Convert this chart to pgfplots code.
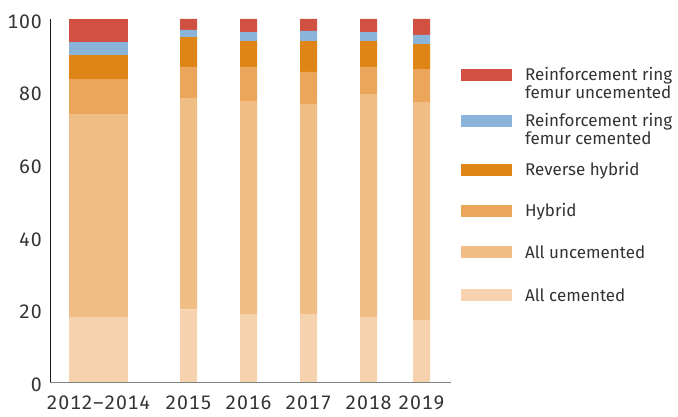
\documentclass[border=0pt]{standalone}
\usepackage{pgfplots}
\usepackage{pgfplotstable}
\pgfplotsset{compat=1.18}
\usepackage{fontspec}
\setmainfont{Fira Sans}[Numbers=Monospaced]
\newfontfamily\tickfont{Fira Sans}[Numbers=Monospaced, LetterSpace=4]
\definecolor{cRRU}{HTML}{D05042}
\definecolor{cRRC}{HTML}{8AB4D9}
\definecolor{cREV}{HTML}{DE8516}
\definecolor{cHYB}{HTML}{EBA65C}
\definecolor{cUNC}{HTML}{F0BE85}
\definecolor{cCEM}{HTML}{F6D3AE}
\definecolor{txt}{HTML}{333333}

% x positions in pt from the y axis
\pgfplotstableread{
x   cem   unc   hyb  rev  rrc  rru
48  17.9  55.9  9.7  6.6  3.6  6.3
}\widebar
\pgfplotstableread{
x   cem   unc   hyb  rev  rrc  rru
138 20.0  58.2  8.6  8.2  2.0  3.0
198 18.7  58.7  9.4  7.1  2.5  3.6
258 18.7  57.9  8.8  8.5  2.8  3.3
318 17.9  61.4  7.5  7.1  2.5  3.6
371 17.1  60.0  9.1  6.9  2.5  4.4
}\narrowbars

\pgfplotsset{
  base/.style={
    at={(50.5pt,35pt)}, anchor=south west,
    scale only axis, width=400.5pt, height=363pt,
    xmin=0, xmax=400.5, ymin=0, ymax=100,
    enlargelimits=false,
    ybar stacked, clip=false,
  },
  patch/.style 2 args={legend image code/.code={%
    \fill[#1, draw=none] (0pt,0pt) rectangle (51pt,12pt);
    \path[draw=none, fill=none] (0pt,-#2) rectangle (0.1pt,14pt);}},
}

\begin{document}
\begin{tikzpicture}
\path[use as bounding box] (0,0) rectangle (678pt,417pt);

\begin{axis}[base,
  bar width=59pt,
  hide axis,
]
\addplot[fill=cCEM, draw=none] table[x=x, y=cem] {\widebar};
\addplot[fill=cUNC, draw=none] table[x=x, y=unc] {\widebar};
\addplot[fill=cHYB, draw=none] table[x=x, y=hyb] {\widebar};
\addplot[fill=cREV, draw=none] table[x=x, y=rev] {\widebar};
\addplot[fill=cRRC, draw=none] table[x=x, y=rrc] {\widebar};
\addplot[fill=cRRU, draw=none] table[x=x, y=rru] {\widebar};
\end{axis}

\begin{axis}[base,
  bar width=17pt,
  axis x line*=bottom, axis y line*=left,
  x axis line style={draw=black!50, line width=0.9pt, -},
  y axis line style={draw=black!90, line width=0.9pt, -},
  major tick length=0pt,
  ytick={0,20,40,60,80,100},
  xtick={48,138,198,258,318,371},
  xticklabels={2012–2014,2015,2016,2017,2018,2019},
  /pgf/number format/assume math mode=true,
  tick label style={font=\tickfont\fontsize{19.5}{19.5}\selectfont, text=txt, inner sep=0pt},
  yticklabel style={anchor=base east, xshift=-8.5pt, yshift=-9.3pt},
  xticklabel style={anchor=base, yshift=-28pt},
  legend style={draw=none, fill=none, at={(1.025,0.8678)}, anchor=north west,
    inner sep=0pt, outer sep=0pt, row sep=0pt, column sep=13pt,
    font=\fontsize{17}{17.5}\selectfont, text=txt,
    nodes={inner sep=0pt, outer sep=0pt},
    cells={anchor=base west}},
]
\addlegendimage{patch={cRRU}{32pt}}
\addlegendentry{\parbox[t]{170pt}{Reinforcement ring\\femur uncemented}}
\addlegendimage{patch={cRRC}{35pt}}
\addlegendentry{\parbox[t]{170pt}{Reinforcement ring\\femur cemented}}
\addlegendimage{patch={cREV}{27pt}}
\addlegendentry{Reverse hybrid}
\addlegendimage{patch={cHYB}{27.5pt}}
\addlegendentry{Hybrid}
\addlegendimage{patch={cUNC}{29pt}}
\addlegendentry{All uncemented}
\addlegendimage{patch={cCEM}{4pt}}
\addlegendentry{All cemented}

\addplot[fill=cCEM, draw=none, forget plot] table[x=x, y=cem] {\narrowbars};
\addplot[fill=cUNC, draw=none, forget plot] table[x=x, y=unc] {\narrowbars};
\addplot[fill=cHYB, draw=none, forget plot] table[x=x, y=hyb] {\narrowbars};
\addplot[fill=cREV, draw=none, forget plot] table[x=x, y=rev] {\narrowbars};
\addplot[fill=cRRC, draw=none, forget plot] table[x=x, y=rrc] {\narrowbars};
\addplot[fill=cRRU, draw=none, forget plot] table[x=x, y=rru] {\narrowbars};
\end{axis}
\end{tikzpicture}
\end{document}
